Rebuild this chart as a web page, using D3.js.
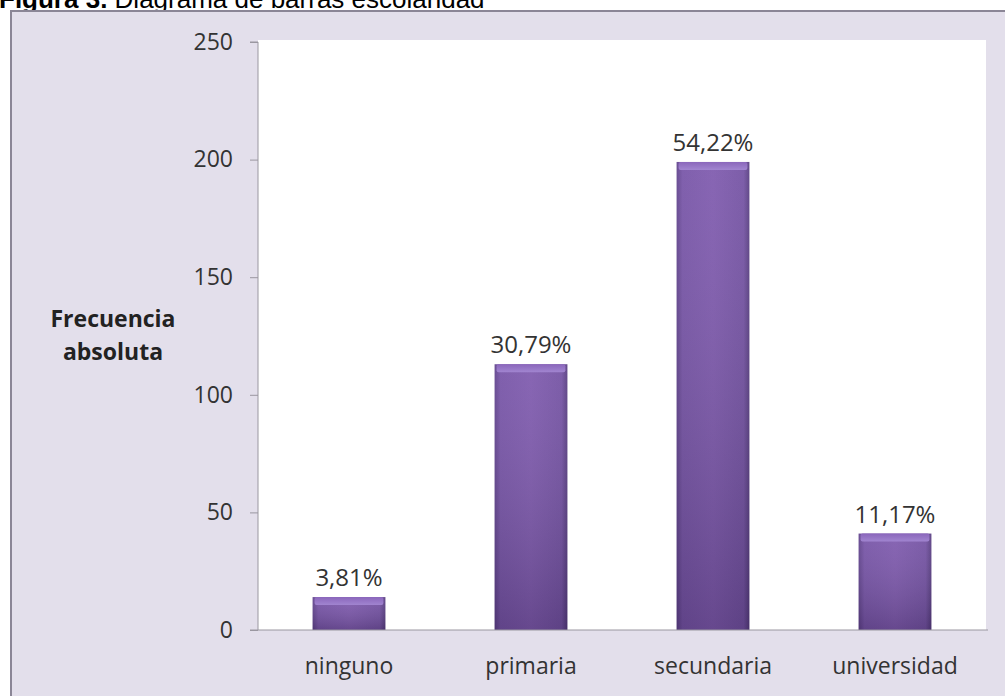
<!DOCTYPE html>
<html><head><meta charset="utf-8">
<script src="https://cdn.jsdelivr.net/npm/d3@7"></script>
<style>
html,body{margin:0;padding:0;background:#fff;}
svg{display:block;}
</style></head>
<body>
<svg id="c" width="1005" height="696"></svg>
<script>
const categories = ["ninguno", "primaria", "secundaria", "universidad"];
const values = [14, 113, 199, 41];
const percentLabels = ["3,81%", "30,79%", "54,22%", "11,17%"];
const yTicks = [0, 50, 100, 150, 200, 250];

const svg = d3.select("#c");
const W = 1005, H = 696;
const m = {left: 258, right: 1005 - 986, top: 42, bottom: 696 - 630};
const FONT = "Open Sans, Lato, sans-serif";

// title (clipped at top, as in the reference)
const title = svg.append("text").attr("x", -1).attr("y", 8)
  .attr("font-family", "Liberation Sans, Arial, sans-serif").attr("font-size", 26).attr("fill", "#000");
title.append("tspan").attr("font-weight", "bold").text("Figura 3.");
title.append("tspan").text(" Diagrama de barras escolaridad");

// outer frame
svg.append("rect").attr("x", 11).attr("y", 11).attr("width", 1000).attr("height", 700)
  .attr("fill", "#e3dfeb").attr("stroke", "#8b8696").attr("stroke-width", 2);

const x = d3.scaleBand().domain(categories).range([m.left, W - m.right]).paddingInner(0.6).paddingOuter(0.3);
const y = d3.scaleLinear().domain([0, 250]).range([H - m.bottom, m.top]);

svg.append("rect").attr("x", m.left).attr("y", m.top - 2).attr("width", W - m.right - m.left).attr("height", H - m.bottom - m.top + 2)
  .attr("fill", "#ffffff");

const defs = svg.append("defs");
const gH = defs.append("linearGradient").attr("id", "gh").attr("x1", 0).attr("x2", 1).attr("y1", 0).attr("y2", 0);
gH.append("stop").attr("offset", "0").attr("stop-color", "#5d3f8a");
gH.append("stop").attr("offset", "0.08").attr("stop-color", "#7552a6");
gH.append("stop").attr("offset", "0.5").attr("stop-color", "#7d58ad");
gH.append("stop").attr("offset", "0.92").attr("stop-color", "#7250a2");
gH.append("stop").attr("offset", "1").attr("stop-color", "#553a7f");
const gV = defs.append("linearGradient").attr("id", "gv").attr("x1", 0).attr("x2", 0).attr("y1", 0).attr("y2", 1);
gV.append("stop").attr("offset", "0").attr("stop-color", "#ffffff").attr("stop-opacity", 0.08);
gV.append("stop").attr("offset", "1").attr("stop-color", "#000000").attr("stop-opacity", 0.18);
const gT = defs.append("linearGradient").attr("id", "gt").attr("x1", 0).attr("x2", 0).attr("y1", 0).attr("y2", 1);
gT.append("stop").attr("offset", "0").attr("stop-color", "#8a66bb");
gT.append("stop").attr("offset", "1").attr("stop-color", "#a185d0");

const bars = svg.append("g").selectAll("g").data(categories).join("g");
bars.append("rect").attr("x", d => x(d)).attr("width", x.bandwidth())
  .attr("y", (d, i) => y(values[i])).attr("height", (d, i) => y(0) - y(values[i]))
  .attr("fill", "url(#gh)");
bars.append("rect").attr("x", d => x(d)).attr("width", x.bandwidth())
  .attr("y", (d, i) => y(values[i])).attr("height", (d, i) => y(0) - y(values[i]))
  .attr("fill", "url(#gv)");
bars.append("rect").attr("x", d => x(d) + 2).attr("width", x.bandwidth() - 4)
  .attr("y", (d, i) => y(values[i])).attr("height", 8)
  .attr("rx", 2).attr("fill", "url(#gt)");

bars.append("text").attr("x", d => x(d) + x.bandwidth() / 2)
  .attr("y", (d, i) => y(values[i]) - 11)
  .attr("text-anchor", "middle").attr("font-family", FONT).attr("font-size", 24)
  .attr("fill", "#333").text((d, i) => percentLabels[i]);

// axes
const yAxis = d3.axisLeft(y).tickValues(yTicks).tickSize(8).tickPadding(17);
const ya = svg.append("g").attr("transform", `translate(${m.left},0)`).call(yAxis);
ya.select(".domain").attr("stroke", "#9a97a0").attr("d", `M-8,${m.top}H0V${H - m.bottom}`);
ya.selectAll(".tick line").attr("stroke", "#9a97a0");
ya.selectAll("text").attr("font-family", FONT).attr("font-size", 23).attr("fill", "#333");

const xAxis = d3.axisBottom(x).tickSize(0).tickPadding(28);
const xa = svg.append("g").attr("transform", `translate(0,${H - m.bottom})`).call(xAxis);
xa.select(".domain").attr("stroke", "#9a97a0").attr("d", `M${m.left - 8},0H${W - m.right + 2}`);
xa.selectAll("text").attr("font-family", FONT).attr("font-size", 23).attr("fill", "#333");

// y axis title
const yt = svg.append("text").attr("text-anchor", "middle").attr("font-family", FONT)
  .attr("font-weight", "bold").attr("font-size", 23).attr("fill", "#222");
yt.append("tspan").attr("x", 113).attr("y", 327).text("Frecuencia");
yt.append("tspan").attr("x", 113).attr("y", 360).text("absoluta");
</script>
</body></html>
